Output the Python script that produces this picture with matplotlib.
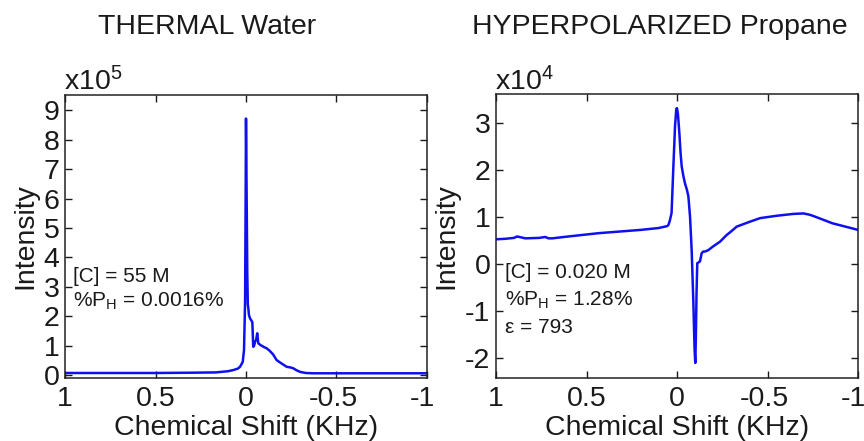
import matplotlib
matplotlib.use("Agg")
import matplotlib.pyplot as plt
from matplotlib.transforms import ScaledTranslation

plt.rcParams['font.family'] = ['Liberation Sans', 'DejaVu Sans']
plt.rcParams['mathtext.fontset'] = 'custom'
plt.rcParams['mathtext.rm'] = 'Liberation Sans'
plt.rcParams['mathtext.it'] = 'Liberation Sans'
plt.rcParams['mathtext.bf'] = 'Liberation Sans'

# ---- data: THERMAL water (intensity x1e5) ----
water_shift = [1.0, 0.5, 0.3, 0.167, 0.1, 0.07, 0.045, 0.033, 0.018, 0.011, 0.005, 0.002,
               0.0, -0.003, -0.007, -0.010, -0.013, -0.016, -0.022, -0.030, -0.035, -0.040,
               -0.045, -0.050, -0.056, -0.062, -0.068, -0.08, -0.10, -0.114, -0.13, -0.15,
               -0.169, -0.19, -0.21, -0.225, -0.245, -0.261, -0.28, -0.298, -0.33, -0.37,
               -0.5, -1.0]
water_int = [0.07, 0.07, 0.08, 0.09, 0.13, 0.17, 0.22, 0.28, 0.45, 0.85, 2.5, 6.0,
             8.72, 6.5, 3.5, 2.4, 2.27, 2.05, 1.93, 1.85, 1.80, 0.96,
             1.00, 1.13, 1.20, 1.42, 1.08, 1.02, 0.95, 0.91, 0.83, 0.70,
             0.51, 0.42, 0.34, 0.28, 0.26, 0.23, 0.16, 0.11, 0.07, 0.06,
             0.06, 0.06]

# ---- data: HYPERPOLARIZED propane (intensity x1e4) ----
prop_shift = [1.0, 0.95, 0.90, 0.884, 0.86, 0.838, 0.76, 0.728, 0.71, 0.69, 0.6, 0.433,
              0.3, 0.2, 0.101, 0.055, 0.048, 0.04, 0.03, 0.02, 0.011, 0.004, 0.0,
              -0.005, -0.013, -0.02, -0.026, -0.035, -0.044, -0.055, -0.063, -0.072,
              -0.081, -0.09, -0.097, -0.101, -0.104, -0.108, -0.112, -0.127, -0.136,
              -0.145, -0.155, -0.173, -0.2, -0.238, -0.274, -0.3, -0.33, -0.4, -0.459,
              -0.55, -0.643, -0.7, -0.735, -0.764, -0.859, -0.93, -1.0]
prop_int = [0.53, 0.54, 0.56, 0.59, 0.57, 0.55, 0.56, 0.58, 0.55, 0.55, 0.59, 0.66,
            0.70, 0.73, 0.77, 0.81, 0.83, 0.92, 1.09, 2.08, 2.93, 3.30, 3.32,
            3.20, 2.79, 2.35, 2.08, 1.88, 1.72, 1.58, 1.44, 1.01,
            0.30, -0.76, -1.8, -2.1, -1.6, -0.6, 0.02, 0.06, 0.23,
            0.27, 0.27, 0.30, 0.38, 0.48, 0.62, 0.70, 0.80, 0.90, 0.98,
            1.03, 1.07, 1.08, 1.05, 1.01, 0.87, 0.80, 0.73]

x_ticks = [1, 0.5, 0, -0.5, -1]
x_tick_labels = ['1', '0.5', '0', '-0.5', '-1']
water_yticks = list(range(0, 10))
prop_yticks = [-2, -1, 0, 1, 2, 3]
prop_ytick_labels = ['-2', '-1', '0', '1', '2', '3']

titles = ['THERMAL Water', 'HYPERPOLARIZED Propane']
exponents = [r'x10$^{5}$', r'x10$^{4}$']
water_notes = ['[C] = 55 M', r'%P$_{\mathregular{H}}$ = 0.0016%']
prop_notes = ['[C] = 0.020 M', r'%P$_{\mathregular{H}}$ = 1.28%', 'ε = 793']

W, H = 864, 441
fig = plt.figure(figsize=(8.64, 4.41), dpi=100)

def px(x0, y0, x1, y1):
    return [x0 / W, 1 - y1 / H, (x1 - x0) / W, (y1 - y0) / H]

ax1 = fig.add_axes(px(65, 95, 427, 378))
ax2 = fig.add_axes(px(496, 94, 858, 378))

line_color = '#1010ee'
txt_color = '#1a1a1a'
fs = 20.5

for ax in (ax1, ax2):
    ax.set_xlim(1, -1)
    ax.set_xticks(x_ticks)
    ax.set_xticklabels(x_tick_labels)
    ax.tick_params(direction='in', top=True, right=True, length=5, width=1,
                   labelsize=fs, colors=txt_color, pad=4)
    ax.tick_params(axis='x', pad=6)
    for s in ax.spines.values():
        s.set_linewidth(1.1)
        s.set_color('#222222')
    ax.set_xlabel('Chemical Shift (KHz)', fontsize=fs, color=txt_color, labelpad=2)
    ax.set_ylabel('Intensity', fontsize=fs, color=txt_color, labelpad=4)

ax1.plot(water_shift, water_int, color=line_color, lw=1.8)
ax1.set_ylim(-0.1, 9.52)
ax1.set_yticks(water_yticks)

ax2.plot(prop_shift, prop_int, color=line_color, lw=1.8)
ax2.set_ylim(-2.42, 3.62)
ax2.set_yticks(prop_yticks)
ax2.set_yticklabels(prop_ytick_labels)

# nudge hyphenated x tick labels like the reference
for ax in (ax1, ax2):
    for lab in ax.get_xticklabels():
        t = lab.get_text()
        if t == '-1':
            lab.set_transform(lab.get_transform() + ScaledTranslation(-5 / 100, 0, fig.dpi_scale_trans))
        elif t == '-0.5':
            lab.set_transform(lab.get_transform() + ScaledTranslation(-3 / 100, 0, fig.dpi_scale_trans))

# titles
fig.text(207 / W, 1 - 27 / H, titles[0], ha='center', va='center', fontsize=fs, color=txt_color)
fig.text(660 / W, 1 - 27 / H, titles[1], ha='center', va='center', fontsize=fs, color=txt_color)

# exponent labels
fig.text(64 / W, 1 - 90 / H, exponents[0], ha='left', va='baseline', fontsize=fs, color=txt_color)
fig.text(495 / W, 1 - 90 / H, exponents[1], ha='left', va='baseline', fontsize=fs, color=txt_color)

# annotations
nfs = 15
for txt, yb in zip(water_notes, [0.340, 0.252]):
    ax1.text(0.022, yb, txt, transform=ax1.transAxes, fontsize=nfs, va='baseline', color=txt_color)
for txt, yb in zip(prop_notes, [0.351, 0.254, 0.157]):
    ax2.text(0.025, yb, txt, transform=ax2.transAxes, fontsize=nfs, va='baseline', color=txt_color)

fig.savefig('out.png', dpi=100)
